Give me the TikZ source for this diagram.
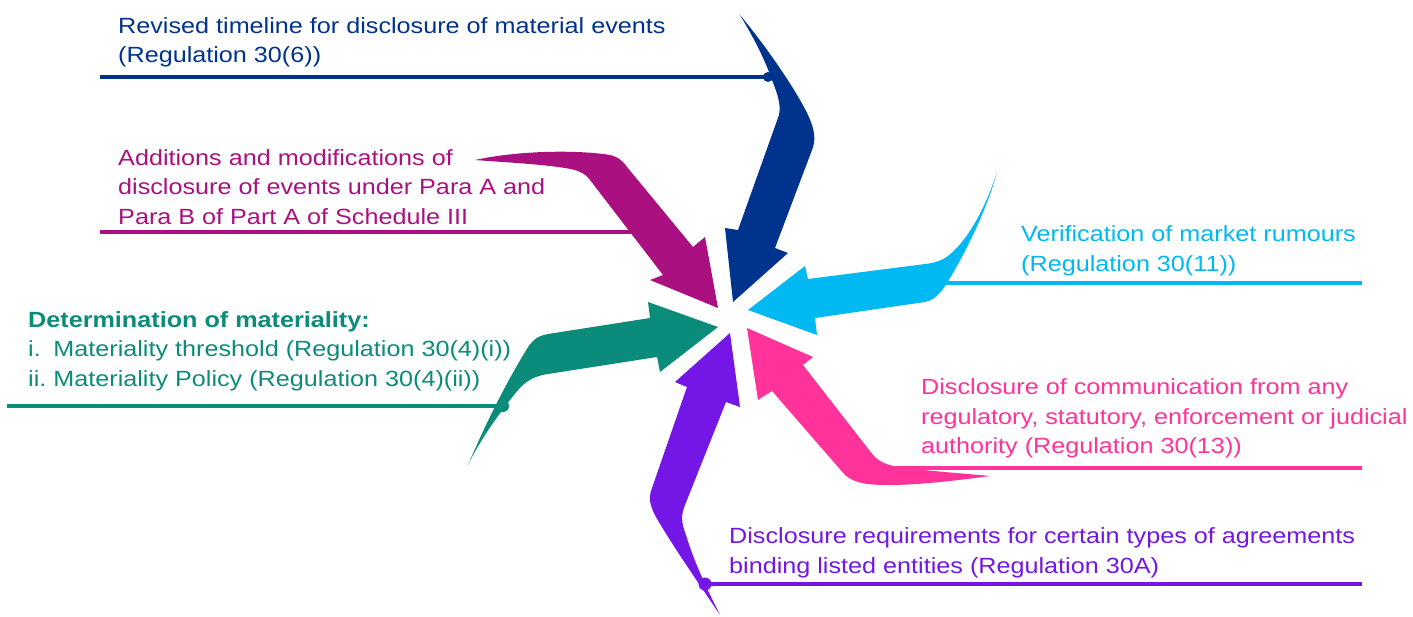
\documentclass[tikz,border=0pt]{standalone}
\usepackage{fontspec}
\setmainfont{Liberation Sans}[FakeStretch=1.145]
\definecolor{cnavy}{RGB}{0,51,141}
\definecolor{cmag}{RGB}{170,16,128}
\definecolor{ccyan}{RGB}{0,185,242}
\definecolor{cgreen}{RGB}{11,140,122}
\definecolor{cpink}{RGB}{255,51,153}
\definecolor{cpurple}{RGB}{115,22,230}
\begin{document}
\begin{tikzpicture}[x=1pt,y=-1pt,
  lbl/.style={anchor=base west, inner sep=0pt, align=left, font=\fontsize{22}{29.5}\selectfont},
  leader/.style={line width=3.3pt},
  dotmark/.style={circle, inner sep=0pt, minimum size=#1}]
\useasboundingbox (0,0) rectangle (1413,616);

% ---------- arrows ----------
% navy
\fill[cnavy] (740,15) .. controls (755,40) and (765,60) .. (772,80)
  .. controls (778,95) and (781,105) .. (779,115)
  -- (738,230) -- (725,228) -- (733,302) -- (788,253) -- (775,248)
  -- (812,150) .. controls (816,140) and (815,130) .. (808,115)
  .. controls (795,88) and (765,45) .. (740,15) -- cycle;
% cyan
\fill[ccyan] (997,172) .. controls (985,210) and (965,245) .. (945,258)
  .. controls (938,262) and (933,263) .. (925,264)
  -- (808,279) -- (805,266) -- (748,310) -- (817,335) -- (815,318)
  -- (925,302) .. controls (935,300) and (942,292) .. (950,278)
  .. controls (970,245) and (990,200) .. (997,172) -- cycle;
% magenta
\fill[cmag] (475,160) .. controls (520,150) and (580,150) .. (610,155)
  .. controls (618,157) and (622,160) .. (627,167)
  -- (693,247) -- (705,237) -- (718,308) -- (650,280) -- (663,275)
  -- (590,180) .. controls (585,173) and (578,170) .. (565,168)
  .. controls (540,164) and (500,162) .. (475,160) -- cycle;
% green
\fill[cgreen] (468,465) .. controls (485,425) and (505,385) .. (525,352)
  .. controls (532,340) and (537,336) .. (548,334)
  -- (650,318) -- (648,302) -- (718,327) -- (660,372) -- (657,357)
  -- (548,374) .. controls (535,376) and (527,380) .. (518,390)
  .. controls (500,412) and (480,440) .. (468,465) -- cycle;
% pink
\fill[cpink] (747,328) -- (813,357) -- (803,365) -- (873,455)
  .. controls (880,463) and (890,466) .. (905,468)
  .. controls (940,472) and (970,474) .. (990,476)
  .. controls (960,480) and (920,485) .. (890,485)
  .. controls (870,485) and (855,484) .. (845,475)
  -- (772,391) -- (758,400) -- cycle;
% purple
\fill[cpurple] (730,333) -- (675,382) -- (687,387) -- (652,488)
  .. controls (648,498) and (650,506) .. (656,517)
  .. controls (672,545) and (700,585) .. (720,615)
  .. controls (710,595) and (695,565) .. (686,535)
  .. controls (681,522) and (681,515) .. (685,505)
  -- (726,402) -- (740,407) -- cycle;

% ---------- leader lines ----------
\node[dotmark=10pt, fill=cnavy] (dnavy) at (768,77) {};
\coordinate (lnavy) at (100,77);
\draw[leader, cnavy] (lnavy) -- (dnavy.center);

\coordinate (lmagA) at (100,232);
\coordinate (lmagB) at (632,232);
\draw[leader, cmag] (lmagA) -- (lmagB);

\node[dotmark=12pt, fill=cgreen] (dgreen) at (503,406) {};
\coordinate (lgreen) at (7,406);
\draw[leader, cgreen] (lgreen) -- (dgreen.center);

\coordinate (lcyanA) at (942,283);
\coordinate (lcyanB) at (1362,283);
\draw[leader, ccyan] (lcyanA) -- (lcyanB);

\coordinate (lpinkA) at (895,468);
\coordinate (lpinkB) at (1362,468);
\draw[leader, cpink] (lpinkA) -- (lpinkB);

\node[dotmark=13pt, fill=cpurple] (dpurple) at (705,584) {};
\coordinate (lpurple) at (1362,584);
\draw[leader, cpurple, line width=3.8pt] (dpurple.center) -- (lpurple);

% ---------- labels (anchored at the baseline of their last line) ----------
\node[lbl, text=cnavy] (tnavy) at (118,62.5) {Revised timeline for disclosure of material events\\(Regulation 30(6))};
\node[lbl, text=cmag] (tmag) at (118,224) {Additions and modifications of\\disclosure of events under Para A and\\Para B of Part A of Schedule III};
\node[lbl, text=cgreen] (tgreen) at (28,386) {\textbf{Determination of materiality:}\\\makebox[25.2pt][l]{i.}Materiality threshold (Regulation 30(4)(i))\\\makebox[25.2pt][l]{ii.}Materiality Policy (Regulation 30(4)(ii))};
\node[lbl, text=ccyan] (tcyan) at (1021,271) {Verification of market rumours\\(Regulation 30(11))};
\node[lbl, text=cpink] (tpink) at (921,453.5) {Disclosure of communication from any\\regulatory, statutory, enforcement or judicial\\authority (Regulation 30(13))};
\node[lbl, text=cpurple] (tpurple) at (729,573) {Disclosure requirements for certain types of agreements\\binding listed entities (Regulation 30A)};
\end{tikzpicture}
\end{document}
